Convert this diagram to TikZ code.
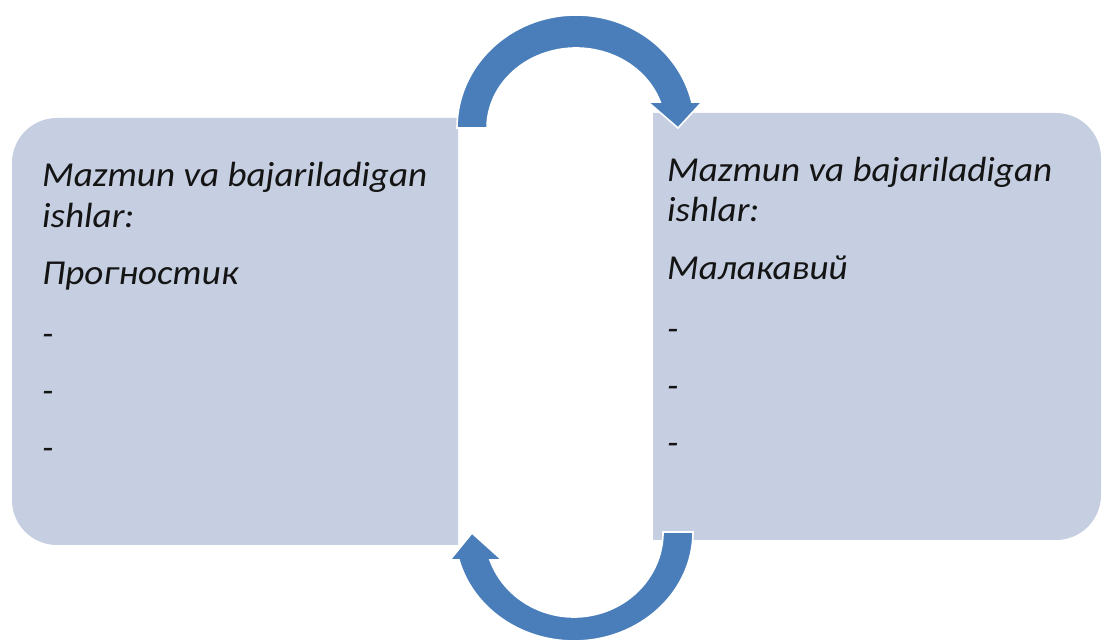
\documentclass[tikz,border=0pt]{standalone}
\usepackage{fontspec}
\setmainfont[FakeStretch=1.06]{Carlito}
\definecolor{boxblue}{RGB}{197,207,225}
\definecolor{arrowblue}{RGB}{74,126,187}
\definecolor{txt}{RGB}{20,20,20}
\begin{document}
\begin{tikzpicture}[x=1pt,y=1pt,
  boxshape/.style={fill=boxblue},
  arrowshape/.style={fill=arrowblue,draw=white,line width=1.6pt,line join=miter},
  label/.style={anchor=base west,inner sep=0pt,text=txt,font=\fontsize{35}{42}\selectfont\itshape}]
\useasboundingbox (0,0) rectangle (1104,644);
\fill[white] (0,0) rectangle (1104,644);
% left box
\path[boxshape] (458,526) -- (57,526) arc[start angle=90,end angle=180,radius=45]
  -- (12,144) arc[start angle=180,end angle=270,radius=45] -- (458,99) -- cycle;
% right box
\path[boxshape] (653,531) -- (1056,531) arc[start angle=90,end angle=0,radius=45]
  -- (1101,149) arc[start angle=0,end angle=-90,radius=45] -- (653,104) -- cycle;
% top arrow
\path[arrowshape] (457,516) arc[start angle=180,end angle=13.3,x radius=119,y radius=113]
  -- (702,542) -- (678,516) -- (648,542) -- (660.2,542)
  arc[start angle=18.97,end angle=180,x radius=89,y radius=80] -- cycle;
% bottom arrow
\path[arrowshape] (693,112) arc[start angle=0,end angle=-165.12,x radius=119,y radius=109]
  -- (450,84) -- (472,111) -- (502,84) -- (490,84)
  arc[start angle=-160.77,end angle=0,x radius=89,y radius=85] -- cycle;
% left texts
\node[label] (l1) at (42,457) {Mazmun va bajariladigan};
\node[label] (l2) at (42,416) {ishlar:};
\node[label] (l3) at (42,359) {Прогностик};
\node[label] (l4) at (42,298) {-};
\node[label] (l5) at (42,241) {-};
\node[label] (l6) at (42,184) {-};
% right texts
\node[label] (r1) at (667,462) {Mazmun va bajariladigan};
\node[label] (r2) at (667,422) {ishlar:};
\node[label] (r3) at (667,364) {Малакавий};
\node[label] (r4) at (667,303) {-};
\node[label] (r5) at (667,246) {-};
\node[label] (r6) at (667,189) {-};
\end{tikzpicture}
\end{document}
